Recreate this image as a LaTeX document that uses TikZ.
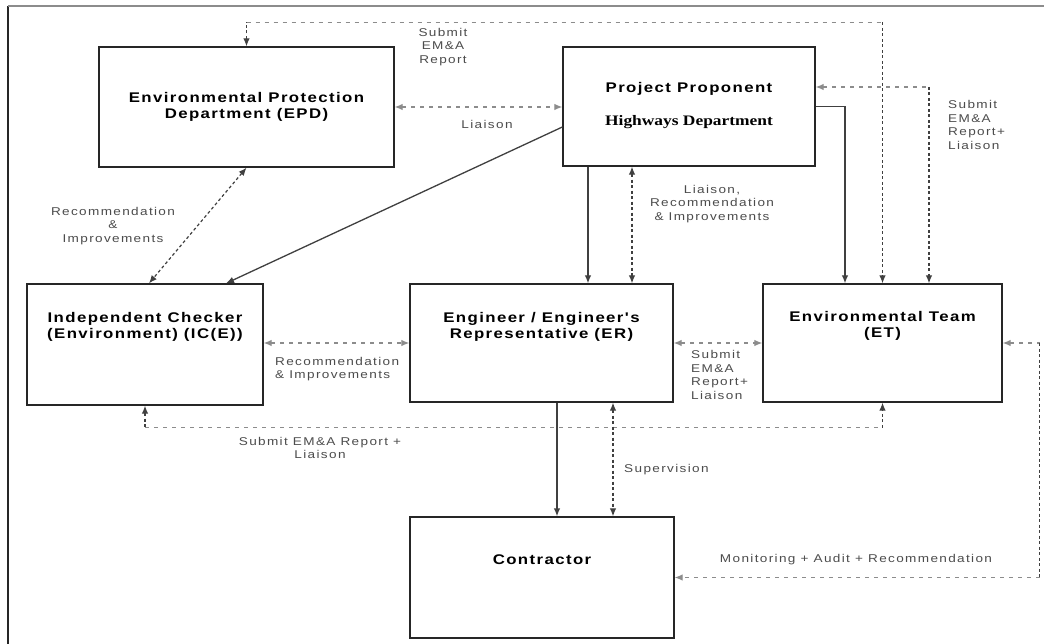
\documentclass[tikz,border=0pt]{standalone}
\usepackage{fontspec}
\setmainfont{Liberation Sans}
\newfontfamily\titlefont[FakeStretch=1.2,LetterSpace=10]{Liberation Sans}
\newfontfamily\labelfont[FakeStretch=1.2,LetterSpace=12]{Liberation Sans}
\newfontfamily\serifbold[FakeStretch=1.2]{Liberation Serif}
\usetikzlibrary{arrows.meta,calc}
\tikzset{
  box/.style={draw=black!85, line width=1.3pt, inner sep=0pt, fill=none},
  ttl/.style={inner sep=0pt, align=center, text=black, font=\titlefont\bfseries\fontsize{14}{16.5}\selectfont},
  lbl/.style={inner sep=0pt, align=center, text=black!70, font=\labelfont\fontsize{11.3}{13.7}\selectfont},
  solidc/.style={draw=black!75, line width=1.3pt},
  dashd/.style={draw=black!75, line width=1.2pt, dash pattern=on 3pt off 2.5pt},
  dashg/.style={draw=black!45, line width=1.2pt, dash pattern=on 4pt off 5pt},
  >={Latex[length=8pt,width=6.5pt]}
}
\begin{document}
\begin{tikzpicture}[x=1pt,y=-1pt]
\fill[white] (0,0) rectangle (1044,644);
\useasboundingbox (0,0) rectangle (1044,644);
% frame
\draw[black!85, line width=1.4pt] (8,644) -- (8,6);
\draw[black!45, line width=1.4pt] (8,6) -- (1044,6);
% boxes
\node[box, minimum width=295pt, minimum height=120pt] (epd) at (246.5,107) {};
\node[box, minimum width=252pt, minimum height=119pt] (pp) at (689,106.5) {};
\node[box, minimum width=236pt, minimum height=121pt] (ice) at (145,344.5) {};
\node[box, minimum width=263pt, minimum height=118pt] (er) at (541.5,343) {};
\node[box, minimum width=239pt, minimum height=118pt] (et) at (882.5,343) {};
\node[box, minimum width=264pt, minimum height=121pt] (con) at (542,577.5) {};
% titles
\node[ttl] (epdt) at (246.5,107) {Environmental Protection\\Department (EPD)};
\node[ttl] (ppt1) at (689,89) {Project Proponent};
\node[inner sep=0pt, text=black, font=\serifbold\bfseries\fontsize{14.5}{16.5}\selectfont] (ppt2) at (689,122) {Highways Department};
\node[ttl] (icet) at (145,327) {Independent Checker\\(Environment) (IC(E))};
\node[ttl] (ert) at (541.5,327) {Engineer / Engineer's\\Representative (ER)};
\node[ttl] (ett) at (882.5,326) {Environmental Team\\(ET)};
\node[ttl] (cont) at (542,560) {Contractor};
% labels
\node[lbl] (l1) at (443,47) {Submit\\EM\&A\\Report};
\node[lbl] (l2) at (487,124) {Liaison};
\node[lbl, anchor=west, align=left] (l3) at (948,125) {Submit\\EM\&A\\Report+\\Liaison};
\node[lbl] (l4) at (712,204) {Liaison,\\Recommendation\\\& Improvements};
\node[lbl] (l5) at (113,226) {Recommendation\\\&\\Improvements};
\node[lbl, anchor=west, align=left] (l6) at (275,369) {Recommendation\\\& Improvements};
\node[lbl, anchor=west, align=left] (l7) at (691,375) {Submit\\EM\&A\\Report+\\Liaison};
\node[lbl] (l8) at (320,448) {Submit EM\&A Report +\\Liaison};
\node[lbl, anchor=west] (l9) at (624,470) {Supervision};
\node[lbl] (l10) at (856,560) {Monitoring + Audit + Recommendation};
% connectors
% 1 ET -> EPD top
\coordinate (t1) at ($(epd.north)+(0,-24)$);
\coordinate (t2) at (et.north |- t1);
\draw[dashd,<-] (epd.north) -- (t1);
\draw[dashg] (t1) -- (t2);
\draw[dashd,->] (t2) -- (et.north);
% 2 EPD <-> PP
\draw[dashg,<->] (epd.east) -- (epd.east -| pp.west);
% 3 PP -> ICE
\draw[solidc,->] ($(pp.west)+(0,20.5)$) -- ($(ice.north)+(81,0)$);
% 4 EPD <-> ICE
\draw[dashd,<->] (epd.south) -- ($(ice.north)+(4,0)$);
% 5,6 PP -> ER
\coordinate (a1) at ($(pp.south)+(-101,0)$);
\draw[solidc,->] (a1) -- (a1 |- er.north);
\coordinate (a2) at ($(pp.south)+(-57,0)$);
\draw[dashd,<->] (a2) -- (a2 |- er.north);
% 7 PP -> ET
\draw[solidc,->] (pp.east) -| ($(et.north)+(-37.5,0)$);
% 8 ET <-> PP
\coordinate (b1) at ($(pp.east)+(0,-19.5)$);
\coordinate (b2) at ($(et.north)+(46.5,0)$);
\coordinate (b3) at (b1 -| b2);
\draw[dashg,<-] (b1) -- (b3);
\draw[dashd,->] (b3) -- (b2);
% 9 ICE <-> ER
\draw[dashg,<->] (er.west -| ice.east) -- (er.west);
% 10 ICE <-> ET
\coordinate (c1) at ($(ice.south)+(0,22)$);
\coordinate (c2) at (c1 -| et.south);
\draw[dashd,<-] (ice.south) -- (c1);
\draw[dashg] (c1) -- (c2);
\draw[dashd,->] (c2) -- (et.south);
% 11 ER <-> ET
\draw[dashg,<->] (er.east) -- (et.west);
% 12,13 ER -> Contractor
\coordinate (d1) at ($(er.south)+(15.5,0)$);
\draw[solidc,->] (d1) -- (d1 |- con.north);
\coordinate (d2) at ($(er.south)+(71.5,0)$);
\draw[dashd,<->] (d2) -- (d2 |- con.north);
% 14 ET <-> Contractor
\coordinate (e1) at ($(et.east)+(37,0)$);
\coordinate (e2) at (e1 |- con.east);
\draw[dashg,<-] (et.east) -- (e1);
\draw[dashd] (e1) -- (e2);
\draw[dashg,->] (e2) -- (con.east);
\end{tikzpicture}
\end{document}
